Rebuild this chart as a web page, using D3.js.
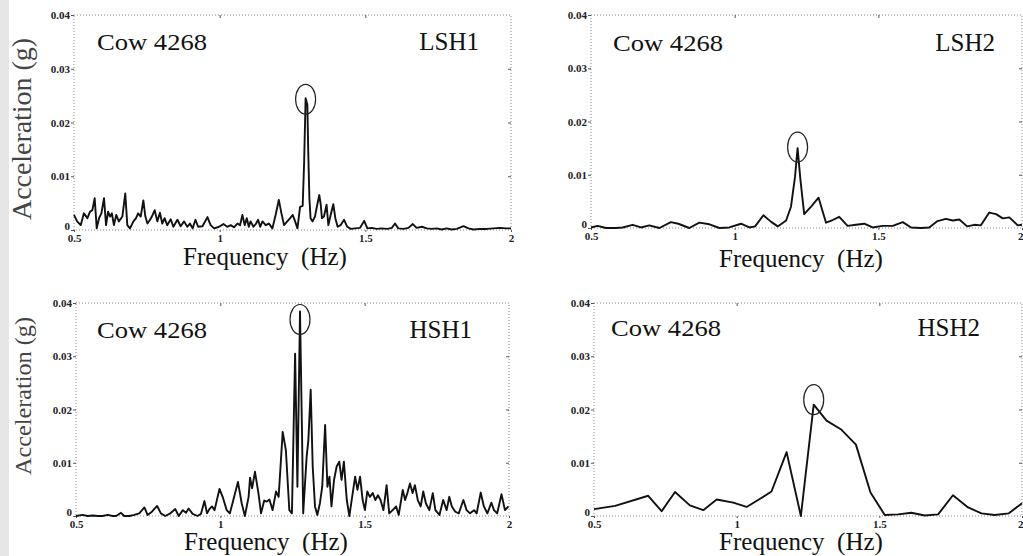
<!DOCTYPE html>
<html>
<head>
<meta charset="utf-8">
<script src="https://cdn.jsdelivr.net/npm/d3@7"></script>
<style>
body { margin: 0; background: #fff; }
</style>
</head>
<body>
<script>
// axis ticks shared by all four panels
var xTicks = [0.5, 1, 1.5, 2];
var xTickLabels = ["0.5", "1", "1.5", "2"];
var yTicks = [0, 0.01, 0.02, 0.03, 0.04];
var yTickLabels = ["0", "0.01", "0.02", "0.03", "0.04"];

var cowLabel = "Cow 4268";
var panelNames = ["LSH1", "LSH2", "HSH1", "HSH2"];

// LSH1 spectrum
var lsh1Freq = [0.500,0.511,0.523,0.534,0.546,0.555,0.563,0.571,0.578,0.586,0.594,0.603,0.610,0.617,0.624,0.630,0.637,0.645,0.654,0.666,
    0.676,0.683,0.692,0.704,0.713,0.720,0.729,0.738,0.745,0.752,0.761,0.770,0.777,0.786,0.795,0.803,0.811,0.820,0.832,0.841,
    0.855,0.866,0.878,0.889,0.898,0.907,0.917,0.926,0.941,0.958,0.969,0.981,0.998,1.013,1.026,1.038,1.049,1.061,1.070,1.078,
    1.086,1.093,1.100,1.106,1.116,1.125,1.132,1.139,1.147,1.158,1.169,1.181,1.192,1.203,1.212,1.221,1.232,1.242,1.251,1.259,
    1.267,1.276,1.285,1.290,1.295,1.301,1.304,1.308,1.312,1.319,1.327,1.335,1.342,1.347,1.351,1.358,1.367,1.373,1.381,1.390,
    1.397,1.405,1.415,1.427,1.438,1.450,1.465,1.482,1.496,1.507,1.522,1.539,1.556,1.576,1.591,1.602,1.613,1.631,1.648,1.663,
    1.676,1.694,1.711,1.728,1.745,1.762,1.779,1.796,1.814,1.837,1.854,1.871,1.894,1.917,1.940,1.962,1.985,2.000];
var lsh1Acc = [0.0028,0.0016,0.0009,0.0031,0.0022,0.0034,0.0037,0.0059,0.0003,0.0022,0.0031,0.0059,0.0009,0.0034,0.0025,0.0031,0.0009,0.0028,0.0016,0.0025,
    0.0068,0.0009,0.0003,0.0016,0.0022,0.0031,0.0025,0.0055,0.0025,0.0012,0.0019,0.0028,0.0037,0.0016,0.0032,0.0012,0.0022,0.0009,0.0020,0.0006,
    0.0019,0.0007,0.0016,0.0006,0.0012,0.0003,0.0019,0.0006,0.0007,0.0024,0.0009,0.0003,0.0006,0.0011,0.0006,0.0009,0.0005,0.0012,0.0009,0.0028,
    0.0009,0.0022,0.0006,0.0016,0.0006,0.0012,0.0019,0.0006,0.0016,0.0009,0.0012,0.0003,0.0028,0.0056,0.0031,0.0009,0.0016,0.0022,0.0028,0.0016,
    0.0003,0.0043,0.0045,0.0127,0.0245,0.0233,0.0146,0.0059,0.0022,0.0016,0.0025,0.0047,0.0065,0.0047,0.0022,0.0025,0.0047,0.0009,0.0028,0.0048,
    0.0022,0.0006,0.0009,0.0019,0.0006,0.0002,0.0003,0.0004,0.0017,0.0003,0.0004,0.0002,0.0003,0.0002,0.0004,0.0012,0.0003,0.0002,0.0004,0.0011,
    0.0004,0.0006,0.0003,0.0002,0.0003,0.0001,0.0003,0.0001,0.0002,0.0007,0.0003,0.0001,0.0002,0.0002,0.0003,0.0004,0.0003,0.0003];

// LSH2 spectrum
var lsh2Freq = [0.500,0.523,0.552,0.587,0.610,0.645,0.674,0.703,0.738,0.778,0.804,0.842,0.877,0.912,0.947,0.981,1.022,1.051,1.071,1.100,
    1.126,1.150,1.179,1.196,1.210,1.219,1.229,1.242,1.266,1.292,1.318,1.341,1.364,1.393,1.422,1.451,1.480,1.515,1.550,1.585,
    1.614,1.648,1.677,1.706,1.735,1.759,1.782,1.809,1.834,1.857,1.886,1.910,1.933,1.956,1.985,2.000];
var lsh2Acc = [0.0001,0.0004,0.0000,0.0000,0.0001,0.0006,0.0001,0.0005,0.0000,0.0011,0.0008,0.0000,0.0010,0.0007,0.0000,0.0001,0.0008,0.0001,0.0003,0.0024,
    0.0012,0.0003,0.0014,0.0040,0.0096,0.0150,0.0090,0.0026,0.0040,0.0057,0.0010,0.0015,0.0021,0.0004,0.0006,0.0008,0.0001,0.0004,0.0004,0.0011,
    0.0001,0.0000,0.0001,0.0013,0.0017,0.0014,0.0016,0.0003,0.0006,0.0005,0.0029,0.0026,0.0018,0.0020,0.0005,0.0006];

// HSH1 spectrum
var hsh1Freq = [0.500,0.523,0.540,0.558,0.575,0.592,0.610,0.627,0.639,0.656,0.667,0.685,0.702,0.719,0.737,0.748,0.763,0.781,0.794,0.809,
    0.827,0.844,0.856,0.870,0.881,0.890,0.904,0.921,0.933,0.945,0.954,0.962,0.971,0.980,0.997,1.008,1.022,1.033,1.045,1.061,
    1.074,1.085,1.098,1.103,1.110,1.120,1.132,1.141,1.152,1.161,1.170,1.181,1.193,1.202,1.216,1.227,1.239,1.248,1.259,1.267,
    1.276,1.283,1.287,1.299,1.305,1.313,1.320,1.328,1.336,1.345,1.353,1.363,1.371,1.378,1.385,1.394,1.403,1.412,1.420,1.428,
    1.438,1.447,1.455,1.467,1.475,1.484,1.493,1.501,1.509,1.518,1.528,1.537,1.546,1.555,1.565,1.576,1.585,1.597,1.609,1.618,
    1.632,1.640,1.648,1.657,1.666,1.674,1.684,1.694,1.703,1.712,1.724,1.736,1.745,1.759,1.772,1.784,1.793,1.802,1.814,1.826,
    1.842,1.853,1.865,1.879,1.888,1.902,1.913,1.925,1.939,1.948,1.959,1.974,1.986,1.998];
var hsh1Acc = [0.0000,0.0002,0.0000,0.0001,0.0000,0.0000,0.0002,0.0000,0.0000,0.0006,0.0000,0.0000,0.0002,0.0005,0.0016,0.0002,0.0008,0.0019,0.0005,0.0000,
    0.0005,0.0013,0.0000,0.0011,0.0006,0.0014,0.0004,0.0000,0.0004,0.0028,0.0005,0.0013,0.0018,0.0011,0.0051,0.0036,0.0011,0.0005,0.0030,0.0064,
    0.0024,0.0000,0.0036,0.0072,0.0052,0.0083,0.0043,0.0005,0.0029,0.0027,0.0031,0.0011,0.0046,0.0036,0.0158,0.0124,0.0011,0.0005,0.0305,0.0055,
    0.0384,0.0155,0.0005,0.0111,0.0143,0.0237,0.0093,0.0018,0.0002,0.0024,0.0055,0.0171,0.0055,0.0074,0.0018,0.0068,0.0093,0.0102,0.0068,0.0102,
    0.0030,0.0000,0.0030,0.0074,0.0049,0.0074,0.0030,0.0011,0.0046,0.0036,0.0043,0.0030,0.0039,0.0030,0.0011,0.0058,0.0005,0.0011,0.0018,0.0002,
    0.0049,0.0030,0.0043,0.0061,0.0043,0.0058,0.0030,0.0018,0.0046,0.0024,0.0011,0.0043,0.0011,0.0002,0.0030,0.0011,0.0036,0.0018,0.0008,0.0005,
    0.0030,0.0011,0.0005,0.0011,0.0005,0.0044,0.0018,0.0005,0.0025,0.0011,0.0005,0.0041,0.0011,0.0018];

// HSH2 spectrum
var hsh2Freq = [0.500,0.574,0.690,0.737,0.784,0.836,0.883,0.930,0.988,1.035,1.075,1.122,1.175,1.225,1.270,1.315,1.365,1.418,1.469,1.519,
    1.566,1.612,1.659,1.706,1.758,1.811,1.858,1.904,1.954,2.000];
var hsh2Acc = [0.0013,0.0019,0.0038,0.0009,0.0045,0.0020,0.0011,0.0031,0.0025,0.0017,0.0030,0.0046,0.0120,0.0000,0.0209,0.0179,0.0163,0.0134,0.0044,0.0002,
    0.0003,0.0006,0.0001,0.0003,0.0039,0.0016,0.0005,0.0002,0.0005,0.0024];

var series = [
    { freq: lsh1Freq, acc: lsh1Acc },
    { freq: lsh2Freq, acc: lsh2Acc },
    { freq: hsh1Freq, acc: hsh1Acc },
    { freq: hsh2Freq, acc: hsh2Acc }
];

// where each panel sits on the page
var layout = [
    { l: 74,  r: 511,  t: 15,  b: 230, cowX: 97,  cowY: 50,  tagX: 479, tagY: 50,  xlabX: 265, xlabY: 265, ringDy: 1 },
    { l: 591, r: 1022, t: 15,  b: 228, cowX: 613, cowY: 51,  tagX: 995, tagY: 51,  xlabX: 801, xlabY: 267, ringDy: -1 },
    { l: 76,  r: 509,  t: 303, b: 516, cowX: 97,  cowY: 338, tagX: 472, tagY: 338, xlabX: 266, xlabY: 550, ringDy: 8 },
    { l: 594, r: 1022, t: 303, b: 516, cowX: 611, cowY: 336, tagX: 980, tagY: 336, xlabX: 801, xlabY: 550, ringDy: -5 }
];

var serif = "'Liberation Serif', 'Times New Roman', serif";
var w = 1023;
var h = 556;

var svg = d3.select("body")
    .append("svg")
    .attr("width", w)
    .attr("height", h);

// scanned page edge
svg.append("rect")
    .attr("x", 0).attr("y", 0)
    .attr("width", 9).attr("height", h)
    .attr("fill", "#e6e6e6");

series.forEach(function(s, i) {
    let p = layout[i];

    let x = d3.scaleLinear().domain([0.5, 2]).range([p.l, p.r]);
    let y = d3.scaleLinear().domain([0, 0.04]).range([p.b, p.t]);

    let g = svg.append("g");

    // dotted frame
    g.append("rect")
        .attr("x", p.l).attr("y", p.t)
        .attr("width", p.r - p.l).attr("height", p.b - p.t)
        .attr("fill", "none")
        .attr("stroke", "#8a8a8a")
        .attr("stroke-width", 1)
        .attr("stroke-dasharray", "1,2");

    let yAxis = g.append("g")
        .attr("transform", "translate(" + p.l + ",0)")
        .call(d3.axisLeft(y).tickValues(yTicks)
            .tickFormat(function(d, k) { return yTickLabels[k]; })
            .tickSize(3).tickPadding(1));

    // the zero label sits just above the 0.5 label
    yAxis.selectAll(".tick text")
        .filter(function(d) { return d === 0; })
        .attr("y", -4);

    let xAxis = g.append("g")
        .attr("transform", "translate(0," + p.b + ")")
        .call(d3.axisBottom(x).tickValues(xTicks)
            .tickFormat(function(d, k) { return xTickLabels[k]; })
            .tickSize(2).tickPadding(2));

    // keep the last label on the page when the panel touches the edge
    if (p.r > w - 6) {
        xAxis.selectAll(".tick text")
            .filter(function(d) { return d === 2; })
            .attr("text-anchor", "end")
            .attr("dx", 1);
    }

    // little inward ticks on the top and right edges
    g.append("g")
        .attr("transform", "translate(" + p.r + ",0)")
        .call(d3.axisRight(y).tickValues(yTicks.slice(1, 4)).tickFormat("").tickSize(-3));
    g.append("g")
        .attr("transform", "translate(0," + p.t + ")")
        .call(d3.axisTop(x).tickValues(xTicks.slice(1, 3)).tickFormat("").tickSize(-3));

    g.selectAll(".domain").remove();
    g.selectAll(".tick line").attr("stroke", "#555");
    g.selectAll(".tick text")
        .attr("font-family", serif)
        .attr("font-size", "11px")
        .attr("font-weight", "bold")
        .attr("fill", "#222");

    // spectrum line
    let line = d3.line()
        .x(function(d, k) { return x(s.freq[k]); })
        .y(function(d) { return y(d); });

    g.append("path")
        .datum(s.acc)
        .attr("d", line)
        .attr("fill", "none")
        .attr("stroke", "#111")
        .attr("stroke-width", 1.9)
        .attr("stroke-linejoin", "round");

    // ring around the dominant peak
    let top = d3.maxIndex(s.acc);
    g.append("ellipse")
        .attr("cx", x(s.freq[top]))
        .attr("cy", y(s.acc[top]) + p.ringDy)
        .attr("rx", 10)
        .attr("ry", 15)
        .attr("fill", "none")
        .attr("stroke", "#222")
        .attr("stroke-width", 1.2);

    g.append("text")
        .text(cowLabel)
        .attr("x", p.cowX).attr("y", p.cowY)
        .attr("font-family", serif)
        .attr("font-size", "24px")
        .attr("textLength", 110)
        .attr("lengthAdjust", "spacingAndGlyphs")
        .attr("fill", "#111");

    g.append("text")
        .text(panelNames[i])
        .attr("x", p.tagX).attr("y", p.tagY)
        .attr("text-anchor", "end")
        .attr("font-family", serif)
        .attr("font-size", "25px")
        .attr("fill", "#111");

    g.append("text")
        .text("Frequency\u00a0 (Hz)")
        .attr("x", p.xlabX).attr("y", p.xlabY)
        .attr("text-anchor", "middle")
        .attr("font-family", serif)
        .attr("font-size", "25px")
        .attr("fill", "#111");
});

// y axis titles on the left column
var yTitles = [
    { cy: 129, len: 182, size: 27 },
    { cy: 396, len: 158, size: 24 }
];
svg.selectAll(".ytitle")
    .data(yTitles)
    .enter()
    .append("text")
    .attr("class", "ytitle")
    .text("Acceleration (g)")
    .attr("transform", function(d) { return "translate(31," + d.cy + ") rotate(-90)"; })
    .attr("text-anchor", "middle")
    .attr("textLength", function(d) { return d.len; })
    .attr("lengthAdjust", "spacingAndGlyphs")
    .attr("font-family", serif)
    .attr("font-size", function(d) { return d.size + "px"; })
    .attr("fill", "#444");
</script>
</body>
</html>
